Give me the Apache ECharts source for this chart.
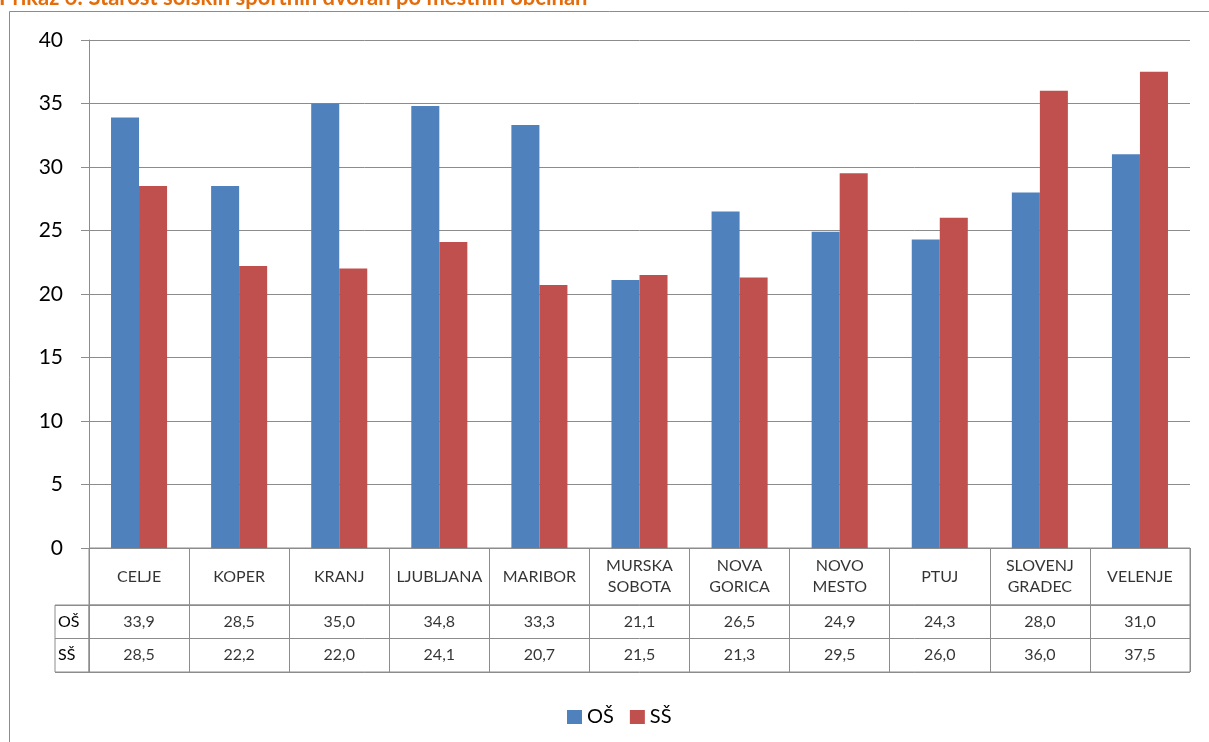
<!DOCTYPE html>
<html>
<head>
<meta charset="utf-8">
<script src="https://cdn.jsdelivr.net/npm/echarts@6/dist/echarts.min.js"></script>
<style>
  html, body { margin: 0; padding: 0; background: #fff; }
  #chart { width: 1209px; height: 742px; }
</style>
</head>
<body>
<div id="chart"></div>
<script>
// podatki
const cities = ['CELJE', 'KOPER', 'KRANJ', 'LJUBLJANA', 'MARIBOR', 'MURSKA SOBOTA', 'NOVA GORICA', 'NOVO MESTO', 'PTUJ', 'SLOVENJ GRADEC', 'VELENJE'];
const osValues = [33.9, 28.5, 35.0, 34.8, 33.3, 21.1, 26.5, 24.9, 24.3, 28.0, 31.0];
const ssValues = [28.5, 22.2, 22.0, 24.1, 20.7, 21.5, 21.3, 29.5, 26.0, 36.0, 37.5];
const seriesNames = ['OŠ', 'SŠ'];
const yTicks = [0, 5, 10, 15, 20, 25, 30, 35, 40];

const FONT = 'Lato, "Open Sans", sans-serif';
const LINE = '#8c8c8c';
const fmt = v => v.toFixed(1).replace('.', ',');

const chart = echarts.init(document.getElementById('chart'));

const hiddenCat = (grid, data) => ({
    type: 'category',
    gridIndex: grid,
    data: data,
    axisLine: { show: false },
    axisTick: { show: false, interval: 0 },
    axisLabel: { show: false, interval: 0 },
    splitLine: { show: true, interval: 0, lineStyle: { color: LINE, width: 1 } }
});

const labelSeries = (name, x, y, data, formatter, lineHeight) => ({
    name: name,
    type: 'scatter',
    xAxisIndex: x,
    yAxisIndex: y,
    data: data,
    symbolSize: 1,
    silent: true,
    itemStyle: { color: 'transparent' },
    label: {
        show: true,
        position: 'inside',
        color: '#000',
        fontFamily: FONT,
        fontSize: 16,
        lineHeight: lineHeight || 18,
        formatter: formatter
    }
});

const option = {
    backgroundColor: '#fff',
    animation: false,
    title: {
        text: 'Prikaz 6: Starost šolskih športnih dvoran po mestnih občinah',
        left: -1,
        top: -13,
        padding: 0,
        textStyle: { color: '#E46C0A', fontFamily: FONT, fontWeight: 'bold', fontSize: 22 }
    },
    graphic: [{
        type: 'rect',
        shape: { x: 9.5, y: 11.5, width: 1400, height: 900 },
        style: { fill: 'none', stroke: LINE, lineWidth: 1 },
        silent: true
    }],
    legend: {
        data: seriesNames,
        top: 702,
        left: 562,
        icon: 'rect',
        itemWidth: 15,
        itemHeight: 14,
        itemGap: 16,
        textStyle: { color: '#000', fontFamily: FONT, fontSize: 20 }
    },
    grid: [
        { left: 89, right: 19, top: 40, height: 508 },
        { left: 89, right: 19, top: 548, height: 57, show: true, borderColor: LINE, borderWidth: 1 },
        { left: 89, right: 19, top: 605, height: 67, show: true, borderColor: LINE, borderWidth: 1 },
        { left: 55, width: 34, top: 605, height: 67, show: true, borderColor: LINE, borderWidth: 1 }
    ],
    xAxis: [
        {
            type: 'category',
            gridIndex: 0,
            data: cities,
            axisLine: { lineStyle: { color: LINE } },
            axisTick: { show: false },
            axisLabel: { show: false }
        },
        hiddenCat(1, cities),
        hiddenCat(2, cities),
        Object.assign(hiddenCat(3, ['']), { splitLine: { show: false } })
    ],
    yAxis: [
        {
            type: 'value',
            gridIndex: 0,
            min: 0,
            max: 40,
            interval: 5,
            axisLine: { show: true, lineStyle: { color: LINE } },
            axisTick: { show: true, length: 8, lineStyle: { color: LINE } },
            axisLabel: {
                color: '#000',
                fontFamily: FONT,
                fontSize: 21,
                margin: 26,
                formatter: v => yTicks.includes(v) ? String(v) : ''
            },
            splitLine: { lineStyle: { color: LINE, width: 1 } }
        },
        { type: 'value', gridIndex: 1, min: 0, max: 1, show: false },
        {
            type: 'category',
            gridIndex: 2,
            data: seriesNames,
            inverse: true,
            axisLine: { show: false },
            axisTick: { show: false },
            axisLabel: { show: false },
            splitLine: { show: true, interval: 0, lineStyle: { color: LINE, width: 1 } }
        },
        {
            type: 'category',
            gridIndex: 3,
            data: seriesNames,
            inverse: true,
            axisLine: { show: false },
            axisTick: { show: false },
            axisLabel: {
                inside: true,
                interval: 0,
                margin: 3,
                color: '#000',
                fontFamily: FONT,
                fontSize: 16
            },
            splitLine: { show: true, interval: 0, lineStyle: { color: LINE, width: 1 } }
        }
    ],
    series: [
        {
            name: 'OŠ',
            type: 'bar',
            data: osValues,
            barGap: '0%',
            barCategoryGap: '44%',
            itemStyle: { color: '#4F81BD' }
        },
        {
            name: 'SŠ',
            type: 'bar',
            data: ssValues,
            itemStyle: { color: '#C0504D' }
        },
        labelSeries('kategorije', 1, 1, cities.map((c, i) => [i, 0.5]),
            p => cities[p.dataIndex].replace(' ', '\n'), 21),
        labelSeries('tabela OŠ', 2, 2, osValues.map((v, i) => [i, 0, v]), p => fmt(p.value[2])),
        labelSeries('tabela SŠ', 2, 2, ssValues.map((v, i) => [i, 1, v]), p => fmt(p.value[2]))
    ]
};

chart.setOption(option);

window.addEventListener('resize', () => {
    chart.resize();
});
</script>
</body>
</html>
